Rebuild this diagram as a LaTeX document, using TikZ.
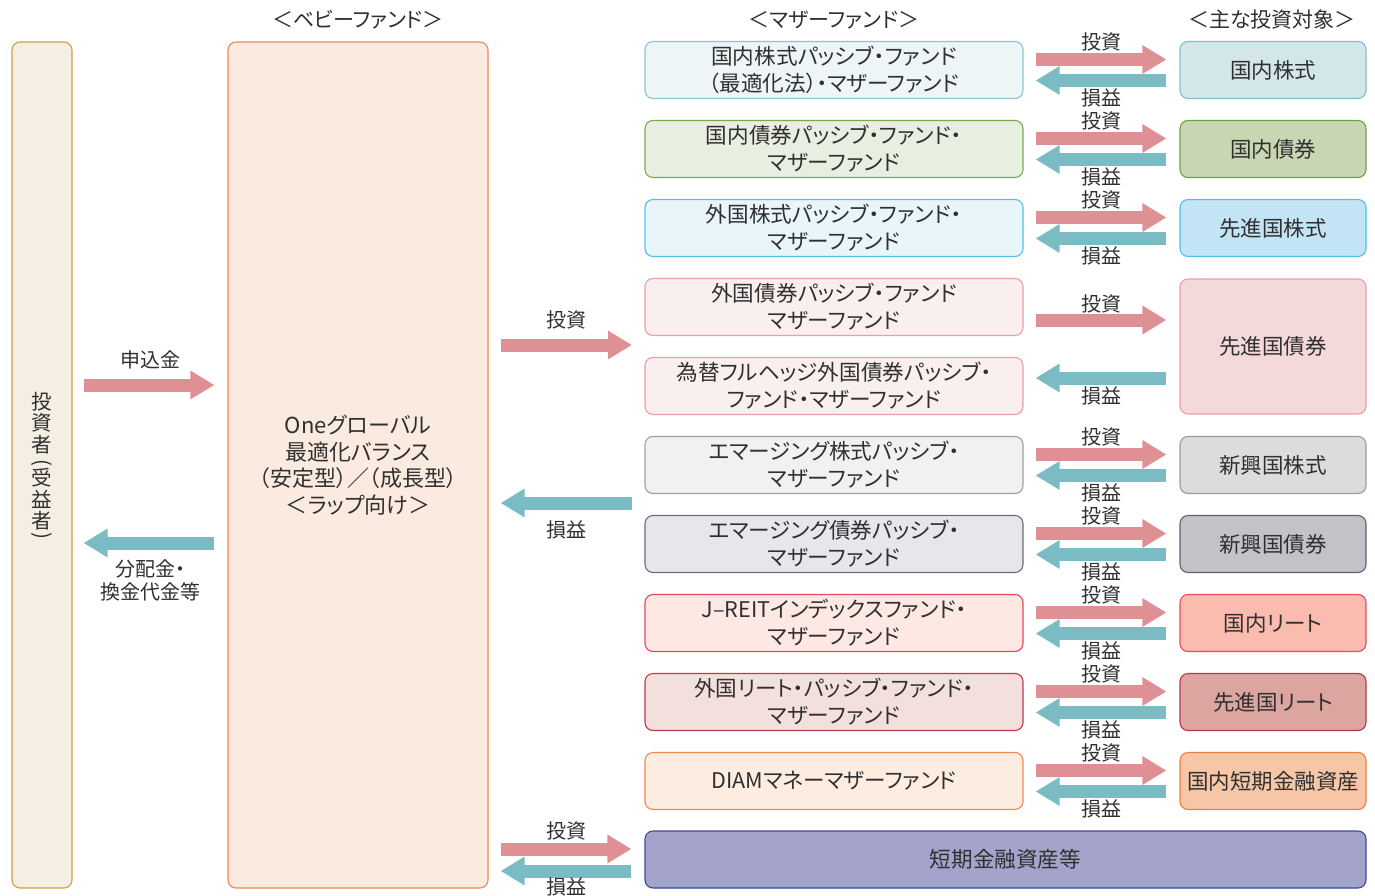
\documentclass[tikz,border=0pt]{standalone}
\usepackage{fontspec}
\setmainfont{Noto Sans CJK JP}[RawFeature=+palt]
\usetikzlibrary{arrows.meta}
\definecolor{txt}{HTML}{303030}
\definecolor{pinkA}{HTML}{DE9095}
\definecolor{tealA}{HTML}{7BBBC4}
\definecolor{invF}{HTML}{F4EFE2}\definecolor{invD}{HTML}{C9A24B}
\definecolor{babF}{HTML}{FBEADF}\definecolor{babD}{HTML}{E98A55}
\definecolor{m1F}{HTML}{EEF5F7}\definecolor{m1D}{HTML}{8CC5CF}
\definecolor{t1F}{HTML}{D3E6EA}\definecolor{t1D}{HTML}{7FBFCB}
\definecolor{m2F}{HTML}{E9EFE0}\definecolor{m2D}{HTML}{7AAA50}
\definecolor{t2F}{HTML}{C8D6B4}\definecolor{t2D}{HTML}{6FA042}
\definecolor{m3F}{HTML}{E8F5FB}\definecolor{m3D}{HTML}{4FC0E8}
\definecolor{t3F}{HTML}{C3E4F4}\definecolor{t3D}{HTML}{4FC0E8}
\definecolor{m4F}{HTML}{F9EFEE}\definecolor{m4D}{HTML}{E8A0A0}
\definecolor{t4F}{HTML}{F3D9DA}\definecolor{t4D}{HTML}{E8A0A8}
\definecolor{m6F}{HTML}{F1F1F3}\definecolor{m6D}{HTML}{A0A0A8}
\definecolor{t6F}{HTML}{DCDCDF}\definecolor{t6D}{HTML}{9A9AA0}
\definecolor{m7F}{HTML}{E7E7EB}\definecolor{m7D}{HTML}{6A6E7A}
\definecolor{t7F}{HTML}{C3C2C8}\definecolor{t7D}{HTML}{5C6270}
\definecolor{m8F}{HTML}{FDE8E3}\definecolor{m8D}{HTML}{E8475A}
\definecolor{t8F}{HTML}{F9BCAE}\definecolor{t8D}{HTML}{E84A5F}
\definecolor{m9F}{HTML}{F3E0DC}\definecolor{m9D}{HTML}{C0384E}
\definecolor{t9F}{HTML}{DDA59F}\definecolor{t9D}{HTML}{B8364A}
\definecolor{m10F}{HTML}{FDEDE1}\definecolor{m10D}{HTML}{EE8A4E}
\definecolor{t10F}{HTML}{F6C6A6}\definecolor{t10D}{HTML}{EB8040}
\definecolor{botF}{HTML}{A3A3CB}\definecolor{botD}{HTML}{3A4A9A}
\begin{document}
\begin{tikzpicture}[x=1pt,y=-1pt,
  box/.style={draw, rounded corners=8pt, line width=1.1pt, align=center, text=txt, inner sep=0pt},
  mbox/.style={box, minimum width=378pt, minimum height=57pt, font=\fontsize{21.6}{27}\selectfont},
  tbox/.style={box, minimum width=186pt, minimum height=57pt, font=\fontsize{21.5}{27}\selectfont},
  inv/.style={line width=13pt, draw=pinkA, -{Triangle[width=27pt,length=24pt]}},
  ret/.style={line width=13pt, draw=tealA, -{Triangle[width=27pt,length=24pt]}},
  lab/.style={font=\fontsize{20}{23}\selectfont, text=txt, inner sep=0pt, align=center},
  vch/.style={font=\fontsize{20.5}{21}\selectfont, text=txt, inner sep=0pt},
  hdr/.style={font=\fontsize{21}{24}\selectfont, text=txt, inner sep=0pt}]
\useasboundingbox (0,0) rectangle (1375,896);

% headers
\node[hdr] (h1) at (358,20) {＜ベビーファンド＞};
\node[hdr] (h2) at (834,20) {＜マザーファンド＞};
\node[hdr] (h3) at (1272,20) {＜主な投資対象＞};

% investor and baby fund
\node[box, fill=invF, draw=invD, minimum width=60pt, minimum height=846pt] (inv) at (42,465) {};
\node[vch] (v1) at (42,402) {投};
\node[vch] (v2) at (42,423) {資};
\node[vch] (v3) at (42,444.5) {者};
\node[vch, rotate=-90] (v4) at (42,462.5) {(};
\node[vch] (v5) at (42,478) {受};
\node[vch] (v6) at (42,499) {益};
\node[vch] (v7) at (42,520.5) {者};
\node[vch, rotate=-90] (v8) at (42,536) {)};
\node[box, fill=babF, draw=babD, minimum width=260pt, minimum height=846pt,
  font=\fontsize{22}{26.5}\selectfont] (b) at (358,465)
  {Oneグローバル\\最適化バランス\\（安定型）／（成長型）\\＜ラップ向け＞};

% mother funds
\node[mbox, fill=m1F, draw=m1D] (m1) at (834,70) {国内株式パッシブ・ファンド\\（最適化法）・マザーファンド};
\node[mbox, fill=m2F, draw=m2D] (m2) at (834,149) {国内債券パッシブ・ファンド・\\マザーファンド};
\node[mbox, fill=m3F, draw=m3D] (m3) at (834,228) {外国株式パッシブ・ファンド・\\マザーファンド};
\node[mbox, fill=m4F, draw=m4D] (m4) at (834,307) {外国債券パッシブ・ファンド\\マザーファンド};
\node[mbox, fill=m4F, draw=m4D] (m5) at (834,386) {為替フルヘッジ外国債券パッシブ・\\ファンド・マザーファンド};
\node[mbox, fill=m6F, draw=m6D] (m6) at (834,465) {エマージング株式パッシブ・\\マザーファンド};
\node[mbox, fill=m7F, draw=m7D] (m7) at (834,544) {エマージング債券パッシブ・\\マザーファンド};
\node[mbox, fill=m8F, draw=m8D] (m8) at (834,623) {J–REITインデックスファンド・\\マザーファンド};
\node[mbox, fill=m9F, draw=m9D] (m9) at (834,702) {外国リート・パッシブ・ファンド・\\マザーファンド};
\node[mbox, fill=m10F, draw=m10D] (m10) at (834,781) {DIAMマネーマザーファンド};
\node[box, fill=botF, draw=botD, minimum width=721pt, minimum height=57pt,
  font=\fontsize{21.6}{27}\selectfont] (bot) at (1005.5,859.5) {短期金融資産等};

% targets
\node[tbox, fill=t1F, draw=t1D] (t1) at (1273,70) {国内株式};
\node[tbox, fill=t2F, draw=t2D] (t2) at (1273,149) {国内債券};
\node[tbox, fill=t3F, draw=t3D] (t3) at (1273,228) {先進国株式};
\node[tbox, fill=t4F, draw=t4D, minimum height=135pt] (t45) at (1273,346.5) {先進国債券};
\node[tbox, fill=t6F, draw=t6D] (t6) at (1273,465) {新興国株式};
\node[tbox, fill=t7F, draw=t7D] (t7) at (1273,544) {新興国債券};
\node[tbox, fill=t8F, draw=t8D] (t8) at (1273,623) {国内リート};
\node[tbox, fill=t9F, draw=t9D] (t9) at (1273,702) {先進国リート};
\node[tbox, fill=t10F, draw=t10D] (t10) at (1273,781) {国内短期金融資産};

% row arrows
\foreach \m/\t/\c in {m1/t1/70, m2/t2/149, m3/t3/228, m6/t6/465, m7/t7/544, m8/t8/623, m9/t9/702, m10/t10/781}{
  \draw[inv] ([xshift=12pt,yshift=10.5pt]\m.east) -- ([xshift=-13pt,yshift=10.5pt]\t.west);
  \draw[ret] ([xshift=-13pt,yshift=-10.5pt]\t.west) -- ([xshift=12pt,yshift=-10.5pt]\m.east);
  \node[lab] at (1101,\c-28) {投資};
  \node[lab] at (1101,\c+28) {損益};
}
\draw[inv] ([xshift=12pt,yshift=-13pt]m4.east) -- ([xshift=-13pt,yshift=26.5pt]t45.west);
\draw[ret] ([xshift=-13pt,yshift=-31.5pt]t45.west) -- ([xshift=12pt,yshift=8pt]m5.east);
\node[lab] (l4a) at (1101,304) {投資};
\node[lab] (l5a) at (1101,396) {損益};

% baby <-> mother
\coordinate (g45) at (645,345);
\coordinate (g67) at (645,503);
\draw[inv] ([xshift=12pt,yshift=120pt]b.east) -- ([xshift=-13pt]g45);
\draw[ret] ([xshift=-13pt]g67) -- ([xshift=12pt,yshift=-38pt]b.east);
\node[lab] (lba) at (566,320) {投資};
\node[lab] (lbb) at (566,530) {損益};
\draw[inv] ([xshift=12pt,yshift=-384pt]b.east) -- ([xshift=-13pt,yshift=10.5pt]bot.west);
\draw[ret] ([xshift=-13pt,yshift=-11.5pt]bot.west) -- ([xshift=12pt,yshift=-406pt]b.east);
\node[lab] (lbc) at (566,831) {投資};
\node[lab] (lbd) at (566,887) {損益};

% investor <-> baby
\draw[inv] ([xshift=11pt,yshift=80pt]inv.east) -- ([xshift=-13pt,yshift=80pt]b.west);
\draw[ret] ([xshift=-13pt,yshift=-78pt]b.west) -- ([xshift=11pt,yshift=-78pt]inv.east);
\node[lab] (lia) at (150,360) {申込金};
\node[lab] (lib) at (150,580) {分配金・\\換金代金等};
\end{tikzpicture}
\end{document}
